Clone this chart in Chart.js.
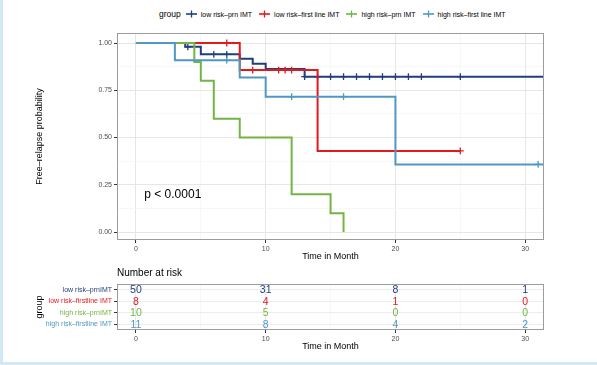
<!DOCTYPE html>
<html>
<head>
<meta charset="utf-8">
<script src="https://cdn.jsdelivr.net/npm/chart.js@4.4.1/dist/chart.umd.min.js"></script>
<style>
  html, body { margin: 0; padding: 0; background: #fff; }
  body { width: 597px; height: 365px; position: relative; overflow: hidden; font-family: "Liberation Sans", Arial, sans-serif; }
  #frameL { position: absolute; left: 0; top: 0; width: 3px; height: 365px; background: #d3e8f5; }
  #frameB { position: absolute; left: 0; bottom: 0; width: 597px; height: 3px; background: #d3e8f5; }
  #legend { position: absolute; left: 159px; top: 8px; height: 12px; display: flex; align-items: center; white-space: nowrap; color: #000; }
  #legend .ttl { font-size: 8.5px; margin-right: 5px; }
  #legend .item { display: flex; align-items: center; font-size: 7px; margin-right: 7px; }
  #legend svg { margin-right: 4px; }
  canvas { position: absolute; left: 0; }
  #km { top: 0; }
  #risk { top: 263px; }
</style>
</head>
<body>
<div id="frameL"></div>
<div id="frameB"></div>
<div id="legend"></div>
<canvas id="km" width="597" height="263"></canvas>
<canvas id="risk" width="597" height="102"></canvas>
<script>
// groups
const groupNames = ['low risk–prn IMT', 'low risk–first line IMT', 'high risk–prn IMT', 'high risk–first line IMT'];
const tableRows = ['low risk–prnIMT', 'low risk–firstline IMT', 'high risk–prnIMT', 'high risk–firstline IMT'];
const groupColors = ['#203e7c', '#e11a1d', '#74b444', '#4f98c3'];

// survival steps (time in month, free-relapse probability)
const lowPrnTime = [0, 3.8, 5, 8, 9, 10, 13, 31.5];
const lowPrnSurv = [1, 0.98, 0.94, 0.917, 0.89, 0.862, 0.822, 0.822];
const lowPrnCensor = [4, 6, 7, 13, 14, 15, 16, 17, 18, 19, 20, 21, 22, 25];

const lowFirstTime = [0, 8, 14, 25];
const lowFirstSurv = [1, 0.857, 0.429, 0.429];
const lowFirstCensor = [7, 9, 11, 11.5, 12, 25];

const highPrnTime = [0, 4.5, 5, 6, 8, 12, 15, 16];
const highPrnSurv = [1, 0.9, 0.8, 0.6, 0.5, 0.2, 0.1, 0];
const highPrnCensor = [];

const highFirstTime = [0, 3, 8, 10, 20, 31.5];
const highFirstSurv = [1, 0.909, 0.818, 0.716, 0.358, 0.358];
const highFirstCensor = [7, 12, 16, 31];

// number at risk
const riskTimes = [0, 10, 20, 30];
const riskLowPrn = [50, 31, 8, 1];
const riskLowFirst = [8, 4, 1, 0];
const riskHighPrn = [10, 5, 0, 0];
const riskHighFirst = [11, 8, 4, 2];

// axes
const xGrid = [0, 5, 10, 15, 20, 25, 30];
const xLabels = [0, 10, 20, 30];
const yGrid = [0, 0.125, 0.25, 0.375, 0.5, 0.625, 0.75, 0.875, 1];
const yLabels = [0, 0.25, 0.5, 0.75, 1];

const curves = [
  { t: lowPrnTime, s: lowPrnSurv, c: lowPrnCensor },
  { t: lowFirstTime, s: lowFirstSurv, c: lowFirstCensor },
  { t: highPrnTime, s: highPrnSurv, c: highPrnCensor },
  { t: highFirstTime, s: highFirstSurv, c: highFirstCensor }
];
const riskCounts = [riskLowPrn, riskLowFirst, riskHighPrn, riskHighFirst];

const FONT = '"Liberation Sans", Arial, sans-serif';
Chart.defaults.font.family = FONT;
Chart.defaults.animation = false;

// legend (html)
const legendEl = document.getElementById('legend');
let lh = '<span class="ttl">group</span>';
groupNames.forEach((name, i) => {
  lh += '<span class="item"><svg width="11" height="8"><line x1="0" y1="4" x2="11" y2="4" stroke="' + groupColors[i] +
    '" stroke-width="1.6"/><line x1="5.5" y1="0.5" x2="5.5" y2="7.5" stroke="' + groupColors[i] + '" stroke-width="1.3"/></svg>' + name + '</span>';
});
legendEl.innerHTML = lh;

function survAt(curve, time) {
  let v = curve.s[0];
  for (let i = 0; i < curve.t.length; i++) {
    if (curve.t[i] <= time) v = curve.s[i];
  }
  return v;
}

const drawOrder = [4, 3, 2, 1];
const datasets = [];
curves.forEach((cv, i) => {
  datasets.push({
    label: groupNames[i],
    data: cv.t.map((t, k) => ({ x: t, y: cv.s[k] })),
    showLine: true,
    stepped: 'before',
    borderColor: groupColors[i],
    borderWidth: 2,
    pointRadius: 0,
    fill: false,
    clip: 0,
    order: drawOrder[i]
  });
  datasets.push({
    label: groupNames[i] + ' censored',
    data: cv.c.map(t => ({ x: t, y: survAt(cv, t) })),
    showLine: false,
    pointStyle: 'cross',
    pointRadius: 3.4,
    borderColor: groupColors[i],
    borderWidth: 1.3,
    order: drawOrder[i]
  });
});

const isMajorX = ctx => ctx.tick && xLabels.includes(ctx.tick.value);
const isMajorY = ctx => ctx.tick && yLabels.includes(ctx.tick.value);

function xScale(extra) {
  return Object.assign({
    type: 'linear',
    min: -1.46,
    max: 31.45,
    bounds: 'data',
    afterBuildTicks: s => { s.ticks = xGrid.map(v => ({ value: v })); },
    afterFit: s => { s.height = 22; },
    ticks: {
      autoSkip: false, maxRotation: 0, padding: 2,
      font: { size: 7 }, color: '#4d4d4d',
      callback: v => xLabels.includes(v) ? String(v) : ''
    },
    grid: {
      color: ctx => isMajorX(ctx) ? '#e6e6e6' : '#f3f3f3',
      lineWidth: ctx => isMajorX(ctx) ? 1 : 0.7,
      tickColor: ctx => isMajorX(ctx) ? '#333' : 'rgba(0,0,0,0)',
      tickLength: 3
    },
    border: { display: false },
    title: { display: true, text: 'Time in Month', font: { size: 9 }, color: '#000', padding: { top: 0, bottom: 0 } }
  }, extra || {});
}

const panelBorder = {
  id: 'panelBorder',
  afterDraw(chart) {
    const a = chart.chartArea, c = chart.ctx;
    c.save();
    c.strokeStyle = '#9c9c9c';
    c.lineWidth = 1;
    c.strokeRect(Math.round(a.left) + 0.5, Math.round(a.top) + 0.5, Math.round(a.right - a.left) - 1, Math.round(a.bottom - a.top) - 1);
    c.restore();
  }
};

const pLabel = {
  id: 'pLabel',
  afterDatasetsDraw(chart) {
    const c = chart.ctx;
    c.save();
    c.font = '12px ' + FONT;
    c.fillStyle = '#000';
    c.textAlign = 'left';
    c.textBaseline = 'middle';
    c.fillText('p < 0.0001', chart.scales.x.getPixelForValue(0.64), chart.scales.y.getPixelForValue(0.2));
    c.restore();
  }
};

new Chart(document.getElementById('km'), {
  type: 'scatter',
  data: { datasets },
  options: {
    responsive: false,
    animation: false,
    layout: { padding: { top: 33, right: 53, bottom: 1, left: 0 } },
    plugins: { legend: { display: false }, tooltip: { enabled: false } },
    scales: {
      x: xScale(),
      y: {
        type: 'linear',
        min: -0.042,
        max: 1.053,
        bounds: 'data',
        afterBuildTicks: s => { s.ticks = yGrid.map(v => ({ value: v })); },
        afterFit: s => { s.width = 117; },
        ticks: {
          autoSkip: false, padding: 2,
          font: { size: 7 }, color: '#4d4d4d',
          callback: v => yLabels.includes(v) ? v.toFixed(2) : ''
        },
        grid: {
          color: ctx => isMajorY(ctx) ? '#e6e6e6' : '#f3f3f3',
          lineWidth: ctx => isMajorY(ctx) ? 1 : 0.7,
          tickColor: ctx => isMajorY(ctx) ? '#333' : 'rgba(0,0,0,0)',
          tickLength: 3
        },
        border: { display: false },
        title: { display: true, text: 'Free–relapse probability', font: { size: 9 }, color: '#000', padding: { top: 34.6, bottom: 0 } }
      }
    }
  },
  plugins: [panelBorder, pLabel]
});

// risk table
const riskSets = riskCounts.map((counts, i) => ({
  label: tableRows[i],
  data: riskTimes.map(t => ({ x: t, y: tableRows[i] })),
  pointRadius: 0,
  showLine: false
}));

const riskText = {
  id: 'riskText',
  afterDatasetsDraw(chart) {
    const c = chart.ctx;
    c.save();
    c.textAlign = 'center';
    c.textBaseline = 'middle';
    c.font = '10.5px ' + FONT;
    chart.data.datasets.forEach((ds, i) => {
      c.fillStyle = groupColors[i];
      chart.getDatasetMeta(i).data.forEach((pt, j) => {
        c.fillText(String(riskCounts[i][j]), pt.x, pt.y + 0.5);
      });
    });
    c.font = '10px ' + FONT;
    c.fillStyle = '#000';
    c.textAlign = 'left';
    c.fillText('Number at risk', chart.chartArea.left, 10.5);
    c.restore();
  }
};

new Chart(document.getElementById('risk'), {
  type: 'scatter',
  data: { datasets: riskSets },
  options: {
    responsive: false,
    animation: false,
    layout: { padding: { top: 21, right: 53, bottom: 13, left: 0 } },
    plugins: { legend: { display: false }, tooltip: { enabled: false } },
    scales: {
      x: xScale(),
      y: {
        type: 'category',
        labels: tableRows,
        offset: true,
        afterFit: s => { s.width = 117; },
        ticks: { padding: 2, font: { size: 7 }, color: ctx => groupColors[ctx.index] },
        grid: { offset: false, color: '#ececec', tickColor: '#333', tickLength: 3 },
        border: { display: false },
        title: { display: true, text: 'group', font: { size: 9 }, color: '#000', padding: { top: 34.6, bottom: 0 } }
      }
    }
  },
  plugins: [panelBorder, riskText]
});
</script>
</body>
</html>
